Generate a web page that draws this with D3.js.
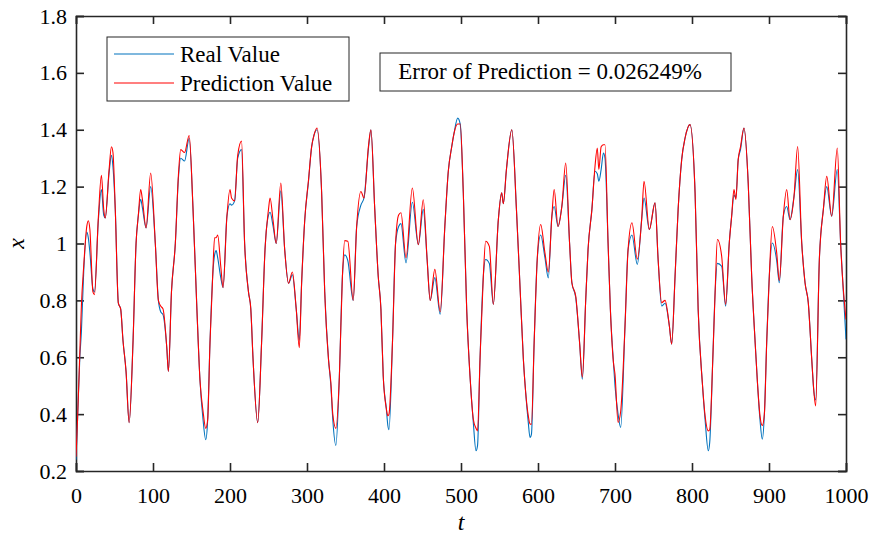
<!DOCTYPE html>
<html>
<head>
<meta charset="utf-8">
<script src="https://cdn.jsdelivr.net/npm/d3@7"></script>
<style>
  body { margin: 0; background: #fff; }
  text { font-family: "Liberation Serif", "Times New Roman", serif; fill: #000; }
</style>
</head>
<body>
<div id="chart"></div>
<script>
// time steps
var t_vals = [0, 2, 5, 7, 10, 14, 16, 18, 22, 24, 29, 33, 36, 38, 43, 46, 48, 51, 55, 58,
  61, 65, 69, 74, 78, 81, 84, 86, 91, 97, 103, 107, 110, 113, 118, 120, 124, 129, 133, 136,
  141, 147, 152, 157, 161, 165, 168.5, 171, 174, 177.5, 180, 182, 184, 188, 191, 196, 200, 202, 206, 210,
  215, 219, 224, 227, 230, 236, 241, 245.5, 250, 252, 256, 260, 266, 271, 276, 281, 286, 290, 293, 297,
  302, 306, 309, 313, 319, 323, 328, 331, 333.5, 337.5, 342, 346, 349, 353, 360, 364.5, 370, 374, 380, 383,
  388, 392.5, 396, 399, 403, 405, 406.5, 411, 415, 419, 422, 428.6, 436.8, 444.6, 451, 456, 460, 466, 473, 479,
  483.5, 488, 491, 495.7, 499, 503, 507.4, 511.7, 516, 519.5, 521.5, 524.7, 529, 532, 536.8, 542, 548.5, 552.8, 555, 559,
  566, 572, 577, 581, 584, 587.4, 589.6, 591.5, 595, 599, 603.5, 609, 613.4, 618, 621, 626, 631, 636, 641, 644,
  649, 654, 657.6, 662, 665, 670, 674, 677, 679, 682, 685, 687, 691, 694, 698, 700, 704, 707.4, 713, 717,
  722, 729, 734.6, 737.7, 744.6, 752, 756, 760.6, 765, 770.6, 773.6, 778, 782, 786.6, 791, 797.4, 804, 808, 813.4, 817,
  821.2, 823, 827, 830, 833, 838.5, 843.7, 848.4, 851.5, 854.5, 857, 860, 863, 867.5, 873, 877.5, 882, 885, 888.3, 891.3,
  894, 897, 900.4, 904.3, 910, 913.4, 918.6, 923, 927.3, 932.5, 937.2, 942.5, 946.8, 951, 955.5, 958.4, 960.6, 965.4, 970.6, 975,
  981.4, 988.7, 993, 1000];

var real_vals = [0.24, 0.38, 0.60, 0.69, 0.90, 1.04, 1.02, 0.97, 0.84, 0.83, 1.08, 1.19, 1.10, 1.09, 1.25, 1.31, 1.27, 1.12, 0.79, 0.77,
  0.66, 0.55, 0.37, 0.65, 1.00, 1.10, 1.155, 1.13, 1.055, 1.20, 1.00, 0.80, 0.76, 0.75, 0.63, 0.55, 0.83, 1.00, 1.23, 1.30,
  1.29, 1.37, 1.12, 0.77, 0.52, 0.38, 0.31, 0.38, 0.65, 0.885, 0.96, 0.975, 0.95, 0.88, 0.845, 1.096, 1.14, 1.135, 1.15, 1.30,
  1.33, 1.00, 0.83, 0.77, 0.59, 0.37, 0.65, 0.98, 1.10, 1.11, 1.06, 1.00, 1.185, 0.98, 0.86, 0.89, 0.77, 0.66, 0.86, 1.08,
  1.22, 1.34, 1.38, 1.40, 1.18, 0.83, 0.59, 0.50, 0.38, 0.29, 0.53, 0.885, 0.96, 0.94, 0.80, 1.06, 1.135, 1.16, 1.34, 1.40,
  1.12, 0.885, 0.77, 0.534, 0.42, 0.36, 0.345, 0.652, 1.00, 1.06, 1.07, 0.932, 1.145, 0.996, 1.12, 0.944, 0.80, 0.88, 0.751, 1.06,
  1.254, 1.341, 1.388, 1.441, 1.42, 1.178, 0.768, 0.534, 0.37, 0.271, 0.29, 0.593, 0.885, 0.944, 0.93, 0.786, 1.084, 1.178, 1.14, 1.26,
  1.40, 1.12, 0.827, 0.593, 0.476, 0.37, 0.318, 0.33, 0.652, 0.944, 1.03, 0.95, 0.879, 1.096, 1.13, 1.06, 1.131, 1.24, 1.002, 0.862,
  0.81, 0.652, 0.523, 0.803, 0.979, 1.12, 1.254, 1.245, 1.219, 1.26, 1.318, 1.30, 1.002, 0.768, 0.581, 0.50, 0.40, 0.353, 0.71, 0.979,
  1.03, 0.926, 1.084, 1.16, 1.049, 1.143, 0.944, 0.78, 0.79, 0.71, 0.646, 0.885, 1.12, 1.295, 1.371, 1.418, 1.178, 0.768, 0.511, 0.38,
  0.271, 0.30, 0.593, 0.827, 0.93, 0.92, 0.78, 1.002, 1.096, 1.17, 1.16, 1.295, 1.33, 1.406, 1.213, 0.885, 0.652, 0.511, 0.38, 0.312,
  0.40, 0.652, 0.885, 1.002, 0.94, 0.862, 1.096, 1.13, 1.084, 1.166, 1.26, 1.002, 0.862, 0.792, 0.593, 0.476, 0.45, 0.944, 1.12, 1.20,
  1.096, 1.26, 1.002, 0.663];

var pred_vals = [0.25, 0.38, 0.62, 0.78, 0.92, 1.06, 1.08, 1.05, 0.83, 0.82, 1.09, 1.24, 1.12, 1.09, 1.26, 1.34, 1.32, 1.12, 0.79, 0.77,
  0.66, 0.55, 0.37, 0.65, 1.00, 1.10, 1.19, 1.16, 1.055, 1.248, 1.00, 0.80, 0.78, 0.77, 0.63, 0.55, 0.83, 1.00, 1.24, 1.33,
  1.32, 1.38, 1.12, 0.77, 0.52, 0.41, 0.35, 0.38, 0.65, 0.885, 1.02, 1.02, 1.03, 0.92, 0.845, 1.096, 1.19, 1.16, 1.15, 1.31,
  1.36, 1.00, 0.83, 0.77, 0.59, 0.37, 0.65, 0.98, 1.12, 1.16, 1.08, 1.00, 1.213, 0.98, 0.86, 0.90, 0.77, 0.634, 0.86, 1.08,
  1.225, 1.34, 1.38, 1.406, 1.18, 0.83, 0.59, 0.51, 0.40, 0.35, 0.53, 0.885, 1.01, 1.008, 0.80, 1.06, 1.183, 1.16, 1.347, 1.40,
  1.12, 0.885, 0.77, 0.534, 0.42, 0.394, 0.40, 0.652, 1.00, 1.10, 1.108, 0.95, 1.195, 0.996, 1.154, 0.944, 0.80, 0.909, 0.76, 1.06,
  1.254, 1.341, 1.388, 1.42, 1.42, 1.178, 0.768, 0.534, 0.382, 0.35, 0.341, 0.593, 0.885, 1.008, 0.99, 0.786, 1.084, 1.178, 1.14, 1.26,
  1.40, 1.12, 0.827, 0.593, 0.476, 0.394, 0.365, 0.365, 0.652, 0.944, 1.067, 0.967, 0.90, 1.096, 1.19, 1.06, 1.131, 1.283, 1.002, 0.862,
  0.815, 0.652, 0.53, 0.803, 0.979, 1.12, 1.27, 1.336, 1.26, 1.34, 1.347, 1.347, 1.002, 0.768, 0.581, 0.54, 0.371, 0.41, 0.71, 0.979,
  1.073, 0.945, 1.084, 1.219, 1.049, 1.143, 0.944, 0.792, 0.80, 0.71, 0.646, 0.885, 1.12, 1.295, 1.371, 1.418, 1.178, 0.768, 0.511, 0.394,
  0.341, 0.345, 0.593, 0.827, 1.014, 0.956, 0.786, 1.002, 1.096, 1.19, 1.155, 1.295, 1.34, 1.406, 1.213, 0.885, 0.652, 0.511, 0.394, 0.36,
  0.40, 0.652, 0.885, 1.06, 0.967, 0.87, 1.096, 1.19, 1.084, 1.166, 1.341, 1.002, 0.862, 0.792, 0.593, 0.476, 0.429, 0.944, 1.12, 1.236,
  1.096, 1.336, 1.002, 0.733];

var x_ticks = [0, 100, 200, 300, 400, 500, 600, 700, 800, 900, 1000];
var y_ticks = [0.2, 0.4, 0.6, 0.8, 1.0, 1.2, 1.4, 1.6, 1.8];
var legend_names = ['Real Value', 'Prediction Value'];
var series_colors = ['#0072BD', '#FF0000'];
var error_text = 'Error of Prediction = 0.026249%';

var width = 874;
var height = 539;
var margin = {left: 76, right: 28, top: 16, bottom: 68};
var tick_len = 8;
var axis_color = '#262626';

var svg = d3.select('#chart')
  .append('svg')
  .attr('width', width)
  .attr('height', height);

var x = d3.scaleLinear()
  .domain([0, 1000])
  .range([margin.left, width - margin.right]);

var y = d3.scaleLinear()
  .domain([0.2, 1.8])
  .range([height - margin.bottom, margin.top]);

svg.append('clipPath')
  .attr('id', 'plot_clip')
  .append('rect')
  .attr('x', x(0))
  .attr('y', y(1.8))
  .attr('width', x(1000) - x(0))
  .attr('height', y(0.2) - y(1.8));

var fmt = function(d) { return String(+d.toFixed(1)); };

// bottom and top axes, ticks pointing inward
svg.append('g')
  .attr('transform', 'translate(0,' + y(0.2) + ')')
  .call(d3.axisBottom(x).tickValues(x_ticks).tickSize(-tick_len).tickPadding(16).tickFormat(fmt))
  .call(style_axis);

svg.append('g')
  .attr('transform', 'translate(0,' + y(1.8) + ')')
  .call(d3.axisTop(x).tickValues(x_ticks).tickSize(-tick_len).tickFormat(''))
  .call(style_axis);

// left and right axes
svg.append('g')
  .attr('transform', 'translate(' + x(0) + ',0)')
  .call(d3.axisLeft(y).tickValues(y_ticks).tickSize(-tick_len).tickPadding(9).tickFormat(fmt))
  .call(style_axis);

svg.append('g')
  .attr('transform', 'translate(' + x(1000) + ',0)')
  .call(d3.axisRight(y).tickValues(y_ticks).tickSize(-tick_len).tickFormat(''))
  .call(style_axis);

function style_axis(g) {
  g.select('.domain')
    .attr('stroke', axis_color)
    .attr('stroke-width', 1.6);
  g.selectAll('.tick line')
    .attr('stroke', axis_color)
    .attr('stroke-width', 1.6);
  g.selectAll('.tick text')
    .style('font-family', '"Liberation Serif", serif')
    .style('font-size', '22px')
    .attr('fill', '#000');
}

var rows = t_vals.map(function(t, i) {
  return {t: t, real: real_vals[i], pred: pred_vals[i]};
});

var plot = svg.append('g')
  .attr('clip-path', 'url(#plot_clip)');

_draw_series('real', series_colors[0]);
_draw_series('pred', series_colors[1]);

function _draw_series(key, color) {
  var line = d3.line()
    .x(function(d) { return x(d.t); })
    .y(function(d) { return y(d[key]); })
    .curve(d3.curveMonotoneX);
  plot.append('path')
    .datum(rows)
    .attr('fill', 'none')
    .attr('stroke', color)
    .attr('stroke-width', 1.1)
    .attr('stroke-linejoin', 'round')
    .attr('d', line);
}

// axis labels
svg.append('text')
  .attr('x', (x(0) + x(1000)) / 2)
  .attr('y', 530)
  .attr('text-anchor', 'middle')
  .style('font-size', '24px')
  .style('font-style', 'italic')
  .text('t');

svg.append('text')
  .attr('transform', 'translate(24,' + ((y(0.2) + y(1.8)) / 2) + ') rotate(-90)')
  .attr('text-anchor', 'middle')
  .style('font-size', '24px')
  .style('font-style', 'italic')
  .text('x');

// legend
var legend = svg.append('g')
  .attr('transform', 'translate(107,37)');

legend.append('rect')
  .attr('width', 242)
  .attr('height', 64)
  .attr('fill', '#fff')
  .attr('stroke', axis_color)
  .attr('stroke-width', 1);

legend_names.forEach(function(name, i) {
  var ly = 17 + i * 29;
  legend.append('line')
    .attr('x1', 7)
    .attr('x2', 67)
    .attr('y1', ly)
    .attr('y2', ly)
    .attr('stroke', series_colors[i])
    .attr('stroke-width', 1.1);
  legend.append('text')
    .attr('x', 73)
    .attr('y', ly + 8)
    .style('font-size', '23px')
    .text(name);
});

// error annotation
var note = svg.append('g')
  .attr('transform', 'translate(380,53)');

note.append('rect')
  .attr('width', 351)
  .attr('height', 38)
  .attr('fill', '#fff')
  .attr('stroke', axis_color)
  .attr('stroke-width', 1);

note.append('text')
  .attr('x', 170)
  .attr('y', 26)
  .attr('text-anchor', 'middle')
  .style('font-size', '23px')
  .text(error_text);
</script>
</body>
</html>
